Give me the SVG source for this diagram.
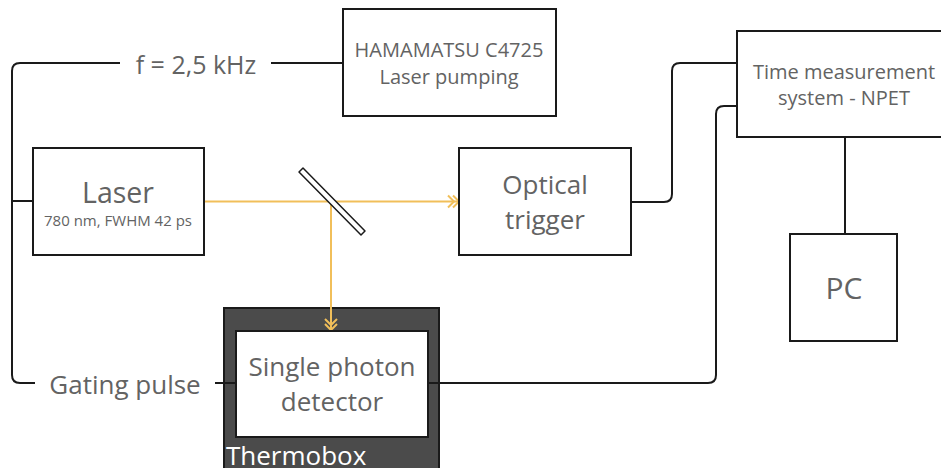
<svg xmlns="http://www.w3.org/2000/svg" width="941" height="468" viewBox="0 0 941 468">
<style>
.box{fill:#fff;stroke:#1a1a1a;stroke-width:2}
.ln{fill:none;stroke:#1a1a1a;stroke-width:2}
.beam{fill:none;stroke:#f1bf5a;stroke-width:2}
text{font-family:"Open Sans","Noto Sans",sans-serif;fill:#636363;text-anchor:middle}
</style>
<rect width="941" height="468" fill="#fff"/>
<g id="thermobox">
<rect x="224" y="308" width="215" height="170" fill="#4b4b4b" stroke="#1a1a1a" stroke-width="2"/>
<text x="226" y="465" style="text-anchor:start;fill:#fff;font-size:26px">Thermobox</text>
</g>
<g id="connectors">
<path class="ln" d="M120,63 H20 Q12,63 12,71 V375 Q12,383 20,383 H35"/>
<path class="ln" d="M12,201 H33"/>
<path class="ln" d="M271,63 H343"/>
<path class="ln" d="M215,383 H236"/>
<path class="ln" d="M631,202 H664 Q672,202 672,194 V71 Q672,63 680,63 H737"/>
<path class="ln" d="M428,383 H708 Q716,383 716,375 V114 Q716,106 724,106 H737"/>
<path class="ln" d="M845,137 V234"/>
<path class="beam" d="M204,201.5 H459"/>
<path class="beam" d="M331,201.5 V330"/>
<path class="beam" d="M448,195.5 L454,201.5 L448,207.5 M453,195.5 L459,201.5 L453,207.5"/>
<path class="beam" d="M325,319 L331,325 L337,319 M325,324 L331,330 L337,324"/>
</g>
<g id="hamamatsu">
<rect class="box" x="343" y="9" width="213" height="107"/>
<text x="449" y="57" font-size="20">HAMAMATSU C4725</text>
<text x="449" y="84" font-size="20">Laser pumping</text>
</g>
<g id="laser">
<rect class="box" x="33" y="148" width="171" height="107"/>
<text x="118" y="203" font-size="28.5">Laser</text>
<text x="118" y="226" font-size="15">780 nm, FWHM 42 ps</text>
</g>
<g id="mirror">
<polygon points="299,172 303,168 365,231 361,235" fill="#fff" stroke="#1a1a1a" stroke-width="1.5" stroke-linejoin="round"/>
</g>
<g id="optical-trigger">
<rect class="box" x="459" y="148" width="172" height="107"/>
<text x="545" y="194" font-size="26">Optical</text>
<text x="545" y="229" font-size="26">trigger</text>
</g>
<g id="time-measurement">
<rect class="box" x="737" y="31" width="210" height="106"/>
<text x="844" y="79" font-size="20">Time measurement</text>
<text x="844" y="105" font-size="20">system - NPET</text>
</g>
<g id="pc">
<rect class="box" x="790" y="234" width="107" height="107"/>
<text x="844" y="299" font-size="30">PC</text>
</g>
<g id="detector">
<rect class="box" x="236" y="331" width="192" height="106"/>
<text x="332" y="376" font-size="26">Single photon</text>
<text x="332" y="411" font-size="26">detector</text>
</g>
<g id="labels">
<text x="196" y="74" font-size="25">f = 2,5 kHz</text>
<text x="125" y="394" font-size="26">Gating pulse</text>
</g>
</svg>
